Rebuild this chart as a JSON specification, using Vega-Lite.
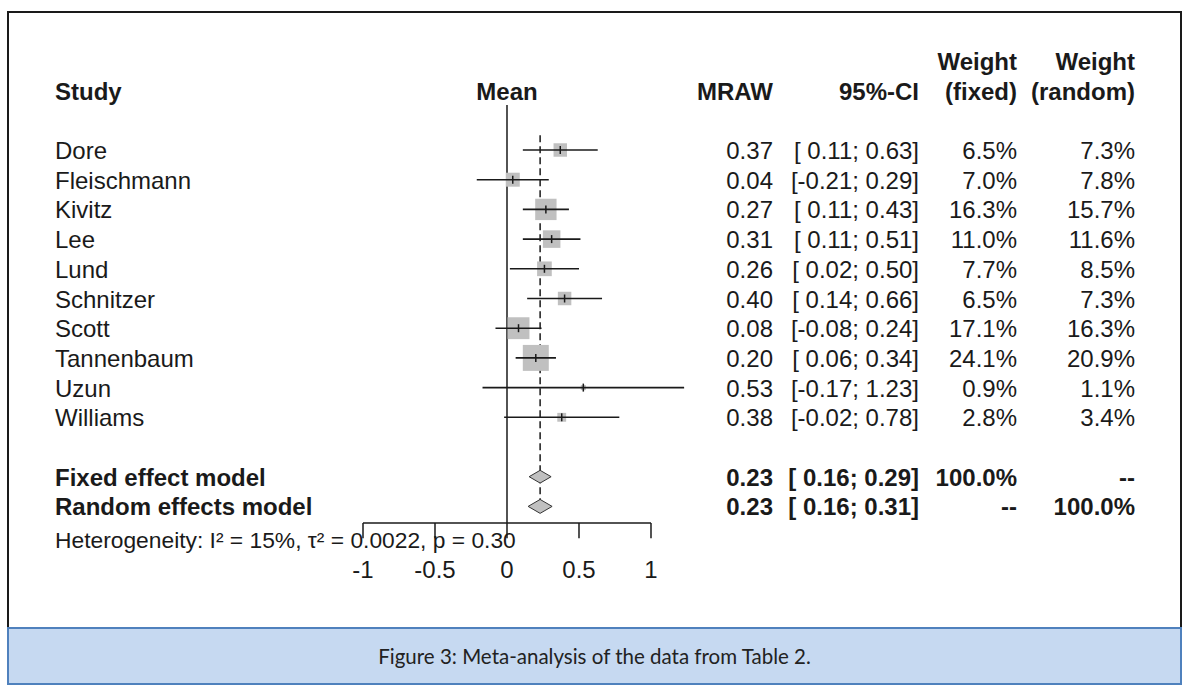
{
  "$schema": "https://vega.github.io/schema/vega-lite/v6.json",
  "padding": {"left": 7, "top": 11, "right": 0, "bottom": 0},
  "background": "white",
  "spacing": 0,
  "bounds": "flush",
  "datasets": {
    "studies": [
      {"study": "Dore", "row": 0, "mean": 0.37, "lower": 0.11, "upper": 0.63, "wfix": 6.5, "wran": 7.3},
      {"study": "Fleischmann", "row": 1, "mean": 0.04, "lower": -0.21, "upper": 0.29, "wfix": 7.0, "wran": 7.8},
      {"study": "Kivitz", "row": 2, "mean": 0.27, "lower": 0.11, "upper": 0.43, "wfix": 16.3, "wran": 15.7},
      {"study": "Lee", "row": 3, "mean": 0.31, "lower": 0.11, "upper": 0.51, "wfix": 11.0, "wran": 11.6},
      {"study": "Lund", "row": 4, "mean": 0.26, "lower": 0.02, "upper": 0.50, "wfix": 7.7, "wran": 8.5},
      {"study": "Schnitzer", "row": 5, "mean": 0.40, "lower": 0.14, "upper": 0.66, "wfix": 6.5, "wran": 7.3},
      {"study": "Scott", "row": 6, "mean": 0.08, "lower": -0.08, "upper": 0.24, "wfix": 17.1, "wran": 16.3},
      {"study": "Tannenbaum", "row": 7, "mean": 0.20, "lower": 0.06, "upper": 0.34, "wfix": 24.1, "wran": 20.9},
      {"study": "Uzun", "row": 8, "mean": 0.53, "lower": -0.17, "upper": 1.23, "wfix": 0.9, "wran": 1.1},
      {"study": "Williams", "row": 9, "mean": 0.38, "lower": -0.02, "upper": 0.78, "wfix": 2.8, "wran": 3.4}
    ],
    "summary": [
      {"model": "Fixed effect model", "type": "fixed", "row": 11, "mean": 0.23, "lower": 0.16, "upper": 0.29, "wfix": 100, "wran": null},
      {"model": "Random effects model", "type": "random", "row": 12, "mean": 0.23, "lower": 0.16, "upper": 0.31, "wfix": null, "wran": 100}
    ],
    "headers": [
      {"col": "study", "text": "Study", "line": -2},
      {"col": "mean", "text": "Mean", "line": -2},
      {"col": "mraw", "text": "MRAW", "line": -2},
      {"col": "ci", "text": "95%-CI", "line": -2},
      {"col": "wf", "text": "Weight", "line": -3},
      {"col": "wf", "text": "(fixed)", "line": -2},
      {"col": "wr", "text": "Weight", "line": -3},
      {"col": "wr", "text": "(random)", "line": -2}
    ],
    "ticks": [
      {"tick": -1}, {"tick": -0.5}, {"tick": 0}, {"tick": 0.5}, {"tick": 1}
    ]
  },
  "vconcat": [
    {
      "width": 1173,
      "height": 616,
      "view": {"fill": "white", "stroke": "#1a1a1a", "strokeWidth": 2},
      "layer": [
        {
          "data": {"values": [{"ref": "null effect"}]},
          "mark": {"type": "rule", "color": "#1a1a1a", "strokeWidth": 1.5},
          "encoding": {
            "x": {"datum": 0, "scale": {"type": "linear", "domain": [-3.4653, 4.6806], "nice": false, "zero": false}, "axis": null},
            "y": {"datum": -1.515, "scale": {"type": "linear", "domain": [-4.6465, 16.0943], "nice": false, "zero": false, "reverse": true}, "axis": null},
            "y2": {"datum": 12.56}
          }
        },
        {
          "data": {"values": [{"ref": "axis"}]},
          "mark": {"type": "rule", "color": "#1a1a1a", "strokeWidth": 1.5},
          "encoding": {
            "x": {"datum": -1, "axis": null},
            "x2": {"datum": 1},
            "y": {"datum": 12.56, "axis": null}
          }
        },
        {
          "data": {"name": "ticks"},
          "transform": [{"calculate": "'' + datum.tick", "as": "tick_label"}],
          "layer": [
            {
              "mark": {"type": "rule", "color": "#1a1a1a", "strokeWidth": 1.5},
              "encoding": {
                "x": {"field": "tick", "type": "quantitative", "axis": null},
                "y": {"datum": 12.56, "axis": null},
                "y2": {"datum": 13.07}
              }
            },
            {
              "mark": {"type": "text", "align": "center"},
              "encoding": {
                "x": {"field": "tick", "type": "quantitative", "axis": null},
                "y": {"datum": 14.12, "axis": null},
                "text": {"field": "tick_label"}
              }
            }
          ]
        },
        {
          "data": {"name": "summary"},
          "transform": [{"filter": "datum.type == 'fixed'"}],
          "mark": {"type": "rule", "color": "#1a1a1a", "strokeWidth": 1.5, "strokeDash": [7, 4]},
          "encoding": {
            "x": {"field": "mean", "type": "quantitative", "axis": null},
            "y": {"datum": -0.5, "axis": null},
            "y2": {"datum": 12}
          }
        },
        {
          "data": {"name": "studies"},
          "transform": [
            {"calculate": "format(datum.mean, '.2f')", "as": "mraw_label"},
            {"calculate": "'[' + (datum.lower < 0 ? '-' : ' ') + format(abs(datum.lower), '.2f') + '; ' + format(datum.upper, '.2f') + ']'", "as": "ci_label"},
            {"calculate": "format(datum.wfix, '.1f') + '%'", "as": "wf_label"},
            {"calculate": "format(datum.wran, '.1f') + '%'", "as": "wr_label"}
          ],
          "encoding": {
            "y": {"field": "row", "type": "quantitative", "axis": null, "title": null}
          },
          "layer": [
            {
              "mark": {"type": "point", "shape": "square", "filled": true, "color": "#c0c0c0", "opacity": 1},
              "encoding": {
                "x": {"field": "mean", "type": "quantitative", "axis": null},
                "size": {"field": "wfix", "type": "quantitative", "scale": {"type": "linear", "domain": [0, 25], "range": [0, 700]}, "legend": null}
              }
            },
            {
              "mark": {"type": "rule", "color": "#1a1a1a", "strokeWidth": 1.6},
              "encoding": {
                "x": {"field": "lower", "type": "quantitative", "axis": null},
                "x2": {"field": "upper"}
              }
            },
            {
              "mark": {"type": "tick", "orient": "vertical", "size": 8, "thickness": 1.5, "color": "#1a1a1a", "opacity": 1},
              "encoding": {
                "x": {"field": "mean", "type": "quantitative", "axis": null}
              }
            },
            {
              "mark": {"type": "text", "align": "left"},
              "encoding": {"x": {"datum": -3.1389, "axis": null}, "text": {"field": "study"}}
            },
            {
              "mark": {"type": "text", "align": "right"},
              "encoding": {"x": {"datum": 1.8472, "axis": null}, "text": {"field": "mraw_label"}}
            },
            {
              "mark": {"type": "text", "align": "right"},
              "encoding": {"x": {"datum": 2.8611, "axis": null}, "text": {"field": "ci_label"}}
            },
            {
              "mark": {"type": "text", "align": "right"},
              "encoding": {"x": {"datum": 3.5417, "axis": null}, "text": {"field": "wf_label"}}
            },
            {
              "mark": {"type": "text", "align": "right"},
              "encoding": {"x": {"datum": 4.3611, "axis": null}, "text": {"field": "wr_label"}}
            }
          ]
        },
        {
          "data": {"name": "summary"},
          "transform": [
            {"calculate": "format(datum.mean, '.2f')", "as": "mraw_label"},
            {"calculate": "'[' + (datum.lower < 0 ? '-' : ' ') + format(abs(datum.lower), '.2f') + '; ' + format(datum.upper, '.2f') + ']'", "as": "ci_label"},
            {"calculate": "datum.wfix == null ? '--' : format(datum.wfix, '.1f') + '%'", "as": "wf_label"},
            {"calculate": "datum.wran == null ? '--' : format(datum.wran, '.1f') + '%'", "as": "wr_label"}
          ],
          "encoding": {
            "y": {"field": "row", "type": "quantitative", "axis": null, "title": null}
          },
          "layer": [
            {
              "transform": [{"filter": "datum.type == 'fixed'"}],
              "mark": {"type": "point", "shape": "M-1,0L0,-0.58L1,0L0,0.58Z", "filled": true, "fill": "#c0c0c0", "stroke": "#333333", "strokeWidth": 1, "size": 484, "opacity": 1},
              "encoding": {"x": {"field": "mean", "type": "quantitative", "axis": null}}
            },
            {
              "transform": [{"filter": "datum.type == 'random'"}],
              "mark": {"type": "point", "shape": "M-1,0L0,-0.58L1,0L0,0.58Z", "filled": true, "fill": "#c0c0c0", "stroke": "#333333", "strokeWidth": 1, "size": 576, "opacity": 1},
              "encoding": {"x": {"field": "mean", "type": "quantitative", "axis": null}}
            },
            {
              "mark": {"type": "text", "align": "left", "fontWeight": "bold"},
              "encoding": {"x": {"datum": -3.1389, "axis": null}, "text": {"field": "model"}}
            },
            {
              "mark": {"type": "text", "align": "right", "fontWeight": "bold"},
              "encoding": {"x": {"datum": 1.8472, "axis": null}, "text": {"field": "mraw_label"}}
            },
            {
              "mark": {"type": "text", "align": "right", "fontWeight": "bold"},
              "encoding": {"x": {"datum": 2.8611, "axis": null}, "text": {"field": "ci_label"}}
            },
            {
              "mark": {"type": "text", "align": "right", "fontWeight": "bold"},
              "encoding": {"x": {"datum": 3.5417, "axis": null}, "text": {"field": "wf_label"}}
            },
            {
              "mark": {"type": "text", "align": "right", "fontWeight": "bold"},
              "encoding": {"x": {"datum": 4.3611, "axis": null}, "text": {"field": "wr_label"}}
            }
          ]
        },
        {
          "data": {"name": "headers"},
          "encoding": {
            "y": {"field": "line", "type": "quantitative", "axis": null, "title": null},
            "text": {"field": "text"}
          },
          "layer": [
            {
              "transform": [{"filter": "datum.col == 'study'"}],
              "mark": {"type": "text", "align": "left", "fontWeight": "bold"},
              "encoding": {"x": {"datum": -3.1389, "axis": null}}
            },
            {
              "transform": [{"filter": "datum.col == 'mean'"}],
              "mark": {"type": "text", "align": "center", "fontWeight": "bold"},
              "encoding": {"x": {"datum": 0, "axis": null}}
            },
            {
              "transform": [{"filter": "datum.col == 'mraw'"}],
              "mark": {"type": "text", "align": "right", "fontWeight": "bold"},
              "encoding": {"x": {"datum": 1.8472, "axis": null}}
            },
            {
              "transform": [{"filter": "datum.col == 'ci'"}],
              "mark": {"type": "text", "align": "right", "fontWeight": "bold"},
              "encoding": {"x": {"datum": 2.8611, "axis": null}}
            },
            {
              "transform": [{"filter": "datum.col == 'wf'"}],
              "mark": {"type": "text", "align": "right", "fontWeight": "bold"},
              "encoding": {"x": {"datum": 3.5417, "axis": null}}
            },
            {
              "transform": [{"filter": "datum.col == 'wr'"}],
              "mark": {"type": "text", "align": "right", "fontWeight": "bold"},
              "encoding": {"x": {"datum": 4.3611, "axis": null}}
            }
          ]
        },
        {
          "data": {"values": [{"note": "Heterogeneity: I² = 15%, τ² = 0.0022, p = 0.30"}]},
          "mark": {"type": "text", "align": "left", "fontSize": 22.8},
          "encoding": {
            "x": {"datum": -3.1389, "axis": null},
            "y": {"datum": 13.1, "axis": null},
            "text": {"field": "note"}
          }
        }
      ]
    },
    {
      "width": 1173,
      "height": 56,
      "view": {"fill": "#c6d9f1", "stroke": "#4f81bd", "strokeWidth": 2},
      "data": {"values": [{"caption": "Figure 3: Meta-analysis of the data from Table 2."}]},
      "mark": {"type": "text", "font": "Lato", "fontSize": 20.5, "color": "#222222", "align": "center"},
      "encoding": {"text": {"field": "caption"}}
    }
  ],
  "config": {
    "text": {"font": "Liberation Sans", "fontSize": 24, "color": "#1a1a1a", "baseline": "middle", "dy": 2},
    "axis": {"grid": false}
  }
}
